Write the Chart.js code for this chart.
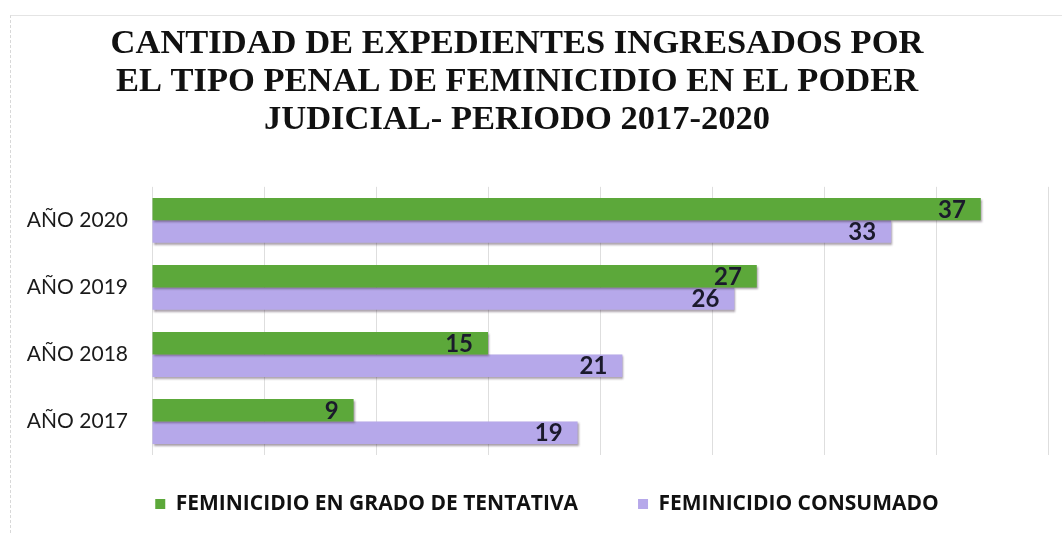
<!DOCTYPE html>
<html>
<head>
<meta charset="utf-8">
<script src="https://cdn.jsdelivr.net/npm/chart.js@4"></script>
<style>
  html, body { margin: 0; padding: 0; background: #fff; }
  #wrap { position: relative; width: 1062px; height: 533px; }
  #frame { position: absolute; left: 10px; top: 15px; right: 0; bottom: 0;
           border-left: 1px dashed #d8d8d8; border-top: 1px solid #e4e4e4; }
  canvas { position: absolute; left: 0; top: 0; }
</style>
</head>
<body>
<div id="wrap">
  <div id="frame"></div>
  <canvas id="chart" width="1062" height="533"></canvas>
</div>
<script>
// Categories (top to bottom) and series
const years = ['AÑO 2020', 'AÑO 2019', 'AÑO 2018', 'AÑO 2017'];
const tentativa = [37, 27, 15, 9];
const consumado = [33, 26, 21, 19];
const seriesNames = ['FEMINICIDIO EN GRADO DE TENTATIVA', 'FEMINICIDIO CONSUMADO'];
const titleLines = [
    'CANTIDAD DE EXPEDIENTES INGRESADOS POR',
    'EL TIPO PENAL DE FEMINICIDIO EN EL PODER',
    'JUDICIAL- PERIODO 2017-2020'
];

// bar shadow, value labels, and small nudges of title/legend
const barExtras = {
    id: 'barExtras',
    afterLayout(chart) {
        // title sits a bit left of centre, legend a bit right, in the original
        chart.titleBlock.left -= 12;
        chart.titleBlock.right -= 12;
        chart.legend.left += 18;
        chart.legend.right += 18;
        chart.legend.top = 504 - 10.5 - 60;
    },
    beforeDatasetDraw(chart) {
        const ctx = chart.ctx;
        ctx.save();
        ctx.shadowColor = 'rgba(60, 40, 60, 0.45)';
        ctx.shadowOffsetX = 1;
        ctx.shadowOffsetY = 2;
        ctx.shadowBlur = 2;
    },
    afterDatasetDraw(chart) {
        chart.ctx.restore();
    },
    afterDatasetsDraw(chart) {
        const ctx = chart.ctx;
        ctx.save();
        ctx.font = 'bold 24px Lato';
        ctx.fillStyle = '#1b1a2c';
        ctx.textAlign = 'right';
        ctx.textBaseline = 'middle';
        chart.data.datasets.forEach((ds, i) => {
            chart.getDatasetMeta(i).data.forEach((bar, j) => {
                ctx.fillText(ds.data[j], bar.x - 15, bar.y + 1);
            });
        });
        ctx.restore();
    }
};

const ctx = document.getElementById('chart').getContext('2d');

new Chart(ctx, {
    type: 'bar',
    data: {
        labels: years,
        datasets: [{
            label: seriesNames[0],
            data: tentativa,
            backgroundColor: '#5ca83a',
            categoryPercentage: 0.67,
            barPercentage: 1.0,
        }, {
            label: seriesNames[1],
            data: consumado,
            backgroundColor: '#b6a8ea',
            categoryPercentage: 0.67,
            barPercentage: 1.0,
        }],
    },
    options: {
        indexAxis: 'y',
        responsive: false,
        animation: false,
        layout: {
            padding: { left: 10, right: 14, top: 0, bottom: 14 },
        },
        scales: {
            x: {
                min: 0,
                max: 40,
                ticks: { display: false, stepSize: 5 },
                grid: { color: '#dedede', drawTicks: false },
                border: { display: false },
                afterFit(scale) { scale.height = 0; },
            },
            y: {
                ticks: {
                    color: '#1a1a1a',
                    font: { family: 'Lato', size: 21 },
                    padding: 16,
                },
                grid: { display: false },
                border: { display: false },
                afterFit(scale) { scale.width = 142; },
            },
        },
        plugins: {
            title: {
                display: true,
                text: titleLines,
                color: '#111',
                font: { family: 'Liberation Serif', size: 34.5, weight: 'bold', lineHeight: 1.1 },
                padding: { top: 25, bottom: 48 },
            },
            legend: {
                position: 'bottom',
                maxHeight: 64,
                labels: {
                    boxWidth: 10,
                    boxHeight: 10,
                    padding: 60,
                    color: '#111',
                    font: { family: 'Open Sans', size: 21, weight: 'bold' },
                },
            },
            tooltip: { enabled: false },
        },
    },
    plugins: [barExtras],
});
</script>
</body>
</html>
